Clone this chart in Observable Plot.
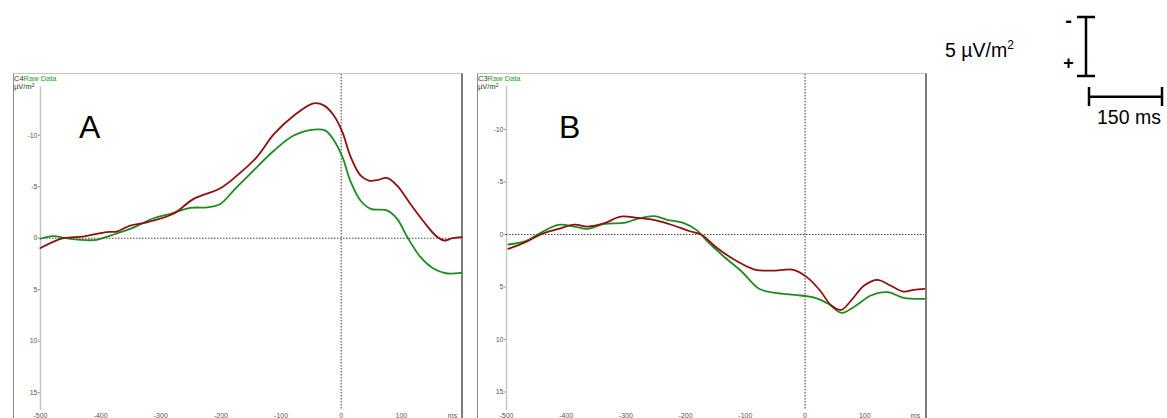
<!DOCTYPE html>
<html>
<head>
<meta charset="utf-8">
<script src="https://cdn.jsdelivr.net/npm/d3@7"></script>
<script src="https://cdn.jsdelivr.net/npm/@observablehq/plot@0.6"></script>
<style>
  html, body { margin: 0; padding: 0; background: #fff; overflow: hidden; width: 1167px; height: 418px; }
  #root { position: relative; width: 1167px; height: 418px; font-family: "Liberation Sans", Arial, sans-serif; }
  .frame { position: absolute; top: 73px; height: 360px; box-sizing: border-box;
           border-left: 1px solid #8c8c8c; border-top: 1px solid #c4c4c4; border-right: 2px solid #7c7c7c; }
  .frame svg { display: block; }
  #overlay { position: absolute; left: 0; top: 0; pointer-events: none; }
</style>
</head>
<body>
<div id="root">
  <div id="frameA" class="frame" style="left:13px;width:450px;"></div>
  <div id="frameB" class="frame" style="left:477px;width:450px;"></div>
</div>
<script>
// ---------- data (time in ms, amplitude in µV/m²; negative is drawn upward) ----------
const xTicks = [-500, -400, -300, -200, -100, 0, 100];
const yTicks = [-10, -5, 0, 5, 10, 15];

const panelA_red = [
  [-500, 0.95], [-462, 0.0], [-429, -0.16], [-390, -0.6], [-373, -0.65], [-351, -1.23],
  [-323, -1.55], [-279, -2.37], [-246, -3.8], [-201, -4.85], [-173, -6.1], [-140, -7.9],
  [-112, -10.1], [-79, -11.9], [-46, -13.1], [-29, -12.9], [-12, -11.9], [2, -10.3],
  [15, -8.0], [32, -6.1], [46, -5.6], [60, -5.65], [76, -5.85], [93, -5.1], [115, -3.33],
  [138, -1.55], [157, -0.26], [171, 0.22], [185, 0.0], [200, -0.1]
];
const panelA_green = [
  [-500, 0.05], [-479, -0.2], [-457, 0.0], [-434, 0.16], [-407, 0.16], [-384, -0.26],
  [-351, -0.9], [-312, -1.94], [-284, -2.37], [-251, -2.95], [-223, -3.0], [-201, -3.33],
  [-179, -4.63], [-146, -6.57], [-112, -8.5], [-79, -9.97], [-46, -10.55], [-26, -10.45],
  [-12, -9.5], [2, -7.9], [15, -5.6], [32, -3.66], [49, -2.85], [76, -2.7], [93, -1.88],
  [110, -0.1], [132, 1.84], [154, 2.97], [174, 3.4], [200, 3.36]
];
const panelB_red = [
  [-497, 1.36], [-468, 0.73], [-441, -0.06], [-413, -0.54], [-386, -0.95], [-364, -0.76],
  [-336, -1.08], [-309, -1.71], [-281, -1.59], [-248, -1.33], [-220, -0.86], [-193, -0.31],
  [-174, 0.0], [-149, 1.21], [-116, 2.48], [-83, 3.36], [-50, 3.43], [-19, 3.36], [3, 4.06],
  [25, 5.33], [44, 6.76], [61, 7.17], [77, 6.29], [99, 4.86], [121, 4.31], [143, 4.86],
  [165, 5.43], [182, 5.27], [200, 5.17]
];
const panelB_green = [
  [-497, 0.95], [-468, 0.63], [-441, -0.22], [-413, -0.92], [-386, -0.76], [-364, -0.54],
  [-336, -1.02], [-303, -1.11], [-281, -1.49], [-253, -1.75], [-231, -1.4], [-204, -1.11],
  [-182, -0.44], [-165, 0.57], [-138, 2.0], [-105, 3.59], [-77, 5.17], [-50, 5.56],
  [-17, 5.75], [17, 6.03], [39, 6.6], [61, 7.46], [83, 6.86], [110, 5.81], [138, 5.49],
  [165, 6.03], [200, 6.13]
];

const redColor = "#8e1010";
const greenColor = "#1e8c1e";
const font = "Liberation Sans, Arial, sans-serif";

function panel({red, green, yTop, yBottom, axisTop, width, marginLeft}) {
  const fmt = d => String(d);
  return Plot.plot({
    width, height: 356,
    marginLeft, marginRight: 0, marginTop: 0, marginBottom: 20,
    style: {fontFamily: font, background: "transparent", overflow: "visible"},
    x: {domain: [-500, 200]},
    y: {domain: [yTop, yBottom], reverse: true},
    marks: [
      Plot.ruleX([-500], {y1: axisTop, y2: yBottom, stroke: "#c6c6c6", strokeWidth: 1.5}),
      Plot.ruleY([0], {stroke: "#444", strokeWidth: 1, strokeDasharray: "1.5,1.5"}),
      Plot.ruleX([0], {stroke: "#666", strokeWidth: 1.3, strokeDasharray: "1.5,1.5"}),
      Plot.axisY({ticks: yTicks, tickFormat: fmt, tickSize: 2, tickPadding: 1, fontSize: 7,
                  stroke: "#999", fill: "#555", label: null}),
      Plot.axisX({ticks: xTicks, tickFormat: fmt, tickSize: 0, tickPadding: 2.5, fontSize: 7,
                  fill: "#555", label: null}),
      Plot.text(["ms"], {x: () => 185, frameAnchor: "bottom", lineAnchor: "top", dy: 2.5,
                         fontSize: 7, fill: "#555"}),
      Plot.line(green, {x: d => d[0], y: d => d[1], stroke: greenColor, strokeWidth: 1.8,
                        curve: "catmull-rom"}),
      Plot.line(red, {x: d => d[0], y: d => d[1], stroke: redColor, strokeWidth: 1.8,
                      curve: "catmull-rom"})
    ]
  });
}

document.getElementById("frameA").append(panel({
  red: panelA_red, green: panelA_green,
  yTop: -15.9, yBottom: 16.73, axisTop: -14.7, width: 447, marginLeft: 26
}));
document.getElementById("frameB").append(panel({
  red: panelB_red, green: panelB_green,
  yTop: -15.24, yBottom: 16.76, axisTop: -14.1, width: 446, marginLeft: 28
}));

// ---------- annotations: panel headers, letters, calibration bars ----------
const ns = "http://www.w3.org/2000/svg";
const ov = document.createElementNS(ns, "svg");
ov.setAttribute("id", "overlay");
ov.setAttribute("width", 1167);
ov.setAttribute("height", 418);
ov.style.fontFamily = font;
document.getElementById("root").append(ov);

function txt(x, y, parts, size, attrs = {}) {
  const t = document.createElementNS(ns, "text");
  t.setAttribute("x", x); t.setAttribute("y", y);
  t.setAttribute("font-size", size);
  for (const [k, v] of Object.entries(attrs)) t.setAttribute(k, v);
  for (const p of parts) {
    const s = document.createElementNS(ns, "tspan");
    s.textContent = p.text;
    if (p.fill) s.setAttribute("fill", p.fill);
    if (p.size) s.setAttribute("font-size", p.size);
    if (p.dy) s.setAttribute("dy", p.dy);
    t.append(s);
  }
  ov.append(t);
}
function ln(x1, y1, x2, y2, w) {
  const l = document.createElementNS(ns, "line");
  l.setAttribute("x1", x1); l.setAttribute("y1", y1);
  l.setAttribute("x2", x2); l.setAttribute("y2", y2);
  l.setAttribute("stroke", "#000"); l.setAttribute("stroke-width", w);
  ov.append(l);
}

// panel headers
txt(14, 80.5, [{text: "C4", fill: "#333"}, {text: "Raw Data", fill: "#1e9a1e"}], 7.5);
txt(14, 89, [{text: "µV/m", fill: "#333"}, {text: "2", fill: "#333", size: 5, dy: -2.5}], 7.5);
txt(478, 80.5, [{text: "C3", fill: "#333"}, {text: "Raw Data", fill: "#1e9a1e"}], 7.5);
txt(478, 89, [{text: "µV/m", fill: "#333"}, {text: "2", fill: "#333", size: 5, dy: -2.5}], 7.5);

// panel letters
txt(79, 138, [{text: "A"}], 32, {fill: "#000"});
txt(559, 138, [{text: "B"}], 32, {fill: "#000"});

// amplitude calibration bar
txt(945, 57, [{text: "5 µV/m"}, {text: "2", size: 12, dy: -8}], 19.5, {fill: "#000"});
ln(1086, 17, 1086, 76, 2.5);
ln(1077, 17, 1095, 17, 2.5);
ln(1077, 76, 1095, 76, 2.5);
txt(1068.5, 27, [{text: "-"}], 20, {"text-anchor": "middle", "font-weight": "bold"});
txt(1068.5, 69, [{text: "+"}], 18, {"text-anchor": "middle", "font-weight": "bold"});

// time calibration bar
ln(1089, 96.7, 1162, 96.7, 2.5);
ln(1089, 87, 1089, 106, 2.5);
ln(1162, 87, 1162, 106, 2.5);
txt(1097, 124, [{text: "150 ms"}], 19.5, {fill: "#000"});
</script>
</body>
</html>
